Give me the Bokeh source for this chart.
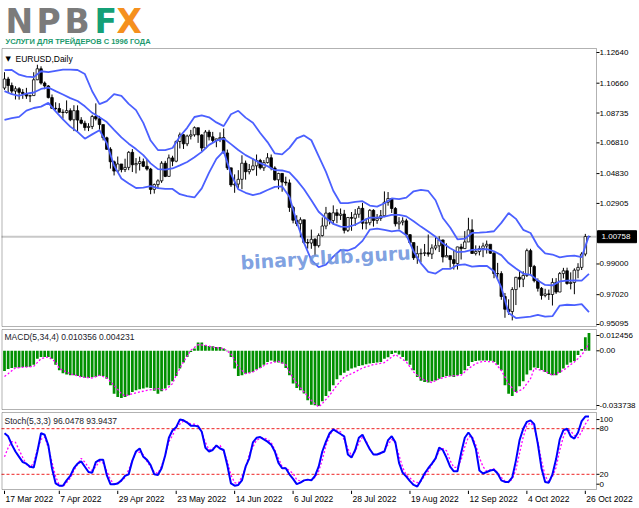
from bokeh.plotting import figure
from bokeh.models import Range1d, Label, BoxAnnotation
from bokeh.layouts import column
from bokeh.embed import file_html
from bokeh.resources import INLINE
from bokeh.core.properties import value

# ---------------- data (EURUSD daily, 17 Mar 2022 .. 27 Oct 2022; bar index 0..160) ----------------
opens = [
1.1035,1.1093,1.1051,1.1015,1.1030,1.1007,1.0998,1.0983,1.0986,1.1088,
1.1159,1.1067,1.1048,1.0973,1.0904,1.0903,1.0879,1.0877,1.0889,1.0830,
1.0889,1.0828,1.0808,1.0780,1.0787,1.0851,1.0836,1.0799,1.0714,1.0640,
1.0559,1.0499,1.0545,1.0509,1.0523,1.0620,1.0540,1.0548,1.0560,1.0530,
1.0512,1.0381,1.0412,1.0436,1.0550,1.0465,1.0584,1.0563,1.0690,1.0733,
1.0675,1.0725,1.0733,1.0779,1.0732,1.0648,1.0751,1.0720,1.0697,1.0707,
1.0715,1.0616,1.0520,1.0410,1.0415,1.0446,1.0550,1.0495,1.0509,1.0533,
1.0567,1.0520,1.0554,1.0585,1.0519,1.0443,1.0484,1.0428,1.0423,1.0265,
1.0182,1.0160,1.0185,1.0038,1.0035,1.0059,1.0018,1.0083,1.0145,1.0228,
1.0180,1.0230,1.0213,1.0222,1.0117,1.0200,1.0195,1.0221,1.0259,1.0163,
1.0166,1.0246,1.0181,1.0194,1.0211,1.0298,1.0322,1.0258,1.0159,1.0170,
1.0178,1.0089,1.0038,0.9940,0.9966,0.9969,0.9972,0.9964,1.0003,1.0017,
1.0055,0.9945,0.9954,0.9928,0.9903,1.0010,0.9999,1.0042,1.0120,0.9968,
0.9980,0.9999,1.0016,1.0027,0.9969,0.9838,0.9838,0.9690,0.9608,0.9593,
0.9735,0.9814,0.9802,0.9826,0.9986,0.9884,0.9792,0.9743,0.9697,0.9707,
0.9703,0.9781,0.9719,0.9838,0.9856,0.9774,0.9781,0.9860,0.9878,0.9964,
1.0077]
closes = [
1.1093,1.1051,1.1015,1.1030,1.1007,1.0998,1.0983,1.0986,1.1088,1.1159,
1.1067,1.1048,1.0973,1.0904,1.0903,1.0879,1.0877,1.0889,1.0830,1.0889,
1.0828,1.0808,1.0780,1.0787,1.0851,1.0836,1.0799,1.0714,1.0640,1.0559,
1.0499,1.0545,1.0509,1.0523,1.0620,1.0540,1.0548,1.0560,1.0530,1.0512,
1.0381,1.0412,1.0436,1.0550,1.0465,1.0584,1.0563,1.0690,1.0733,1.0675,
1.0725,1.0733,1.0779,1.0732,1.0648,1.0751,1.0720,1.0697,1.0707,1.0715,
1.0616,1.0520,1.0410,1.0415,1.0446,1.0550,1.0495,1.0509,1.0533,1.0567,
1.0520,1.0554,1.0585,1.0519,1.0443,1.0484,1.0428,1.0423,1.0265,1.0182,
1.0160,1.0185,1.0038,1.0035,1.0059,1.0018,1.0083,1.0145,1.0228,1.0180,
1.0230,1.0213,1.0222,1.0117,1.0200,1.0195,1.0221,1.0259,1.0163,1.0166,
1.0246,1.0181,1.0194,1.0211,1.0298,1.0322,1.0258,1.0159,1.0170,1.0178,
1.0089,1.0038,0.9940,0.9966,0.9969,0.9972,0.9964,1.0003,1.0017,1.0055,
0.9945,0.9954,0.9928,0.9903,1.0010,0.9999,1.0042,1.0120,0.9968,0.9980,
0.9999,1.0016,1.0027,0.9969,0.9838,0.9838,0.9690,0.9608,0.9593,0.9735,
0.9814,0.9802,0.9826,0.9986,0.9884,0.9792,0.9743,0.9697,0.9707,0.9703,
0.9781,0.9719,0.9838,0.9856,0.9774,0.9781,0.9860,0.9878,0.9964,1.0077,
1.0076]
highs = [
1.1137,1.1107,1.1070,1.1046,1.1040,1.1028,1.1036,1.0992,1.1137,1.1185,
1.1175,1.1077,1.1054,1.0993,1.0943,1.0937,1.0897,1.0955,1.0904,1.0924,
1.0923,1.0847,1.0824,1.0808,1.0862,1.0936,1.0855,1.0794,1.0721,1.0653,
1.0567,1.0593,1.0544,1.0579,1.0628,1.0641,1.0583,1.0592,1.0580,1.0577,
1.0520,1.0419,1.0446,1.0563,1.0565,1.0606,1.0598,1.0697,1.0748,1.0737,
1.0734,1.0765,1.0787,1.0765,1.0737,1.0764,1.0765,1.0752,1.0708,1.0749,
1.0774,1.0638,1.0498,1.0478,1.0505,1.0601,1.0567,1.0545,1.0582,1.0606,
1.0578,1.0571,1.0615,1.0606,1.0530,1.0488,1.0486,1.0463,1.0445,1.0275,
1.0214,1.0201,1.0154,1.0062,1.0122,1.0067,1.0097,1.0200,1.0268,1.0233,
1.0278,1.0254,1.0258,1.0249,1.0202,1.0235,1.0254,1.0274,1.0294,1.0195,
1.0254,1.0253,1.0222,1.0248,1.0368,1.0364,1.0324,1.0267,1.0202,1.0201,
1.0192,1.0093,1.0034,1.0017,0.9999,1.0029,1.0090,1.0027,1.0079,1.0079,
1.0057,1.0033,0.9950,0.9987,1.0011,1.0030,1.0112,1.0198,1.0188,1.0020,
1.0018,1.0037,1.0051,1.0020,0.9977,0.9907,0.9853,0.9713,0.9672,0.9750,
0.9817,0.9854,0.9853,0.9999,0.9998,0.9894,0.9807,0.9751,0.9740,0.9735,
0.9808,0.9809,0.9848,0.9875,0.9876,0.9846,0.9872,0.9905,0.9976,1.0094,
1.0079]
lows = [
1.1023,1.1006,1.0998,1.0961,1.0960,1.0965,1.0965,1.0944,1.0986,1.1086,
1.1057,1.1027,1.0968,1.0902,1.0892,1.0877,1.0837,1.0870,1.0821,1.0757,
1.0758,1.0801,1.0760,1.0757,1.0770,1.0825,1.0766,1.0697,1.0636,1.0515,
1.0471,1.0492,1.0491,1.0493,1.0505,1.0493,1.0484,1.0503,1.0525,1.0502,
1.0350,1.0354,1.0389,1.0423,1.0460,1.0462,1.0531,1.0556,1.0645,1.0642,
1.0660,1.0703,1.0721,1.0681,1.0627,1.0641,1.0697,1.0682,1.0653,1.0686,
1.0613,1.0506,1.0397,1.0359,1.0390,1.0382,1.0444,1.0478,1.0502,1.0469,
1.0509,1.0500,1.0548,1.0504,1.0437,1.0382,1.0366,1.0405,1.0236,1.0162,
1.0144,1.0072,1.0031,0.9999,0.9998,0.9952,1.0006,1.0077,1.0124,1.0155,
1.0153,1.0163,1.0184,1.0097,1.0106,1.0114,1.0146,1.0198,1.0123,1.0123,
1.0150,1.0141,1.0159,1.0178,1.0202,1.0276,1.0229,1.0142,1.0123,1.0149,
1.0072,1.0032,0.9926,0.9901,0.9910,0.9951,0.9947,0.9932,0.9989,0.9977,
0.9910,0.9945,0.9876,0.9864,0.9864,0.9929,1.0000,1.0060,0.9966,0.9955,
0.9955,0.9944,0.9967,0.9965,0.9808,0.9807,0.9669,0.9553,0.9572,0.9536,
0.9635,0.9749,0.9751,0.9816,0.9836,0.9781,0.9722,0.9670,0.9685,0.9668,
0.9632,0.9707,0.9730,0.9807,0.9766,0.9736,0.9705,0.9808,0.9861,0.9950,
1.0073]
bar_idx = list(range(len(closes)))

# Bollinger bands, read every second bar
bb_idx = list(range(0, 161, 2))
bb_upper = [
1.1150,1.1151,1.1121,1.1108,1.1105,1.1143,1.1137,1.1146,1.1153,1.1154,
1.1151,1.1125,1.1014,1.0931,1.0950,1.0996,1.0984,1.0933,1.0892,1.0810,
1.0696,1.0635,1.0634,1.0648,1.0722,1.0778,1.0848,1.0858,1.0846,1.0813,
1.0789,1.0866,1.0888,1.0844,1.0811,1.0745,1.0686,1.0613,1.0607,1.0649,
1.0710,1.0729,1.0698,1.0596,1.0494,1.0372,1.0292,1.0292,1.0301,1.0305,
1.0277,1.0270,1.0292,1.0323,1.0318,1.0328,1.0369,1.0378,1.0371,1.0311,
1.0197,1.0135,1.0059,1.0063,1.0100,1.0102,1.0105,1.0111,1.0165,1.0229,
1.0191,1.0120,1.0100,1.0016,0.9969,0.9961,0.9943,0.9950,0.9954,0.9944,
1.0083]
bb_middle = [
1.1015,1.0995,1.0985,1.0999,1.1006,1.1029,1.1038,1.1015,1.0993,1.0970,
1.0951,1.0917,1.0875,1.0847,1.0815,1.0765,1.0717,1.0676,1.0641,1.0602,
1.0549,1.0512,1.0509,1.0516,1.0536,1.0558,1.0588,1.0623,1.0668,1.0695,
1.0709,1.0673,1.0635,1.0602,1.0577,1.0550,1.0531,1.0505,1.0503,1.0491,
1.0441,1.0382,1.0311,1.0237,1.0195,1.0159,1.0141,1.0139,1.0153,1.0177,
1.0199,1.0199,1.0206,1.0217,1.0217,1.0207,1.0175,1.0141,1.0110,1.0075,
1.0033,1.0001,0.9976,0.9980,0.9991,0.9994,0.9996,0.9982,0.9957,0.9906,
0.9871,0.9838,0.9830,0.9794,0.9765,0.9762,0.9788,0.9793,0.9794,0.9792,
0.9836]
bb_lower = [
1.0830,1.0840,1.0849,1.0889,1.0906,1.0915,1.0939,1.0884,1.0833,1.0786,
1.0752,1.0708,1.0736,1.0763,1.0679,1.0534,1.0451,1.0419,1.0390,1.0393,
1.0402,1.0389,1.0385,1.0384,1.0350,1.0338,1.0329,1.0388,1.0489,1.0578,
1.0628,1.0481,1.0382,1.0359,1.0344,1.0355,1.0377,1.0397,1.0400,1.0333,
1.0171,1.0036,0.9925,0.9879,0.9896,0.9947,0.9990,0.9987,1.0005,1.0049,
1.0121,1.0128,1.0120,1.0110,1.0117,1.0086,0.9981,0.9904,0.9849,0.9838,
0.9869,0.9868,0.9893,0.9898,0.9883,0.9887,0.9888,0.9853,0.9749,0.9584,
0.9551,0.9556,0.9560,0.9572,0.9561,0.9563,0.9632,0.9637,0.9635,0.9641,
0.9590]

macd_hist = [
-0.0118,-0.0106,-0.0100,-0.0098,-0.0097,-0.0095,-0.0095,-0.0095,-0.0081,-0.0046,
-0.0036,-0.0036,-0.0036,-0.0046,-0.0081,-0.0114,-0.0132,-0.0139,-0.0143,-0.0143,
-0.0147,-0.0153,-0.0157,-0.0159,-0.0155,-0.0153,-0.0147,-0.0147,-0.0163,-0.0202,
-0.0251,-0.0270,-0.0276,-0.0270,-0.0260,-0.0241,-0.0231,-0.0225,-0.0221,-0.0214,
-0.0218,-0.0233,-0.0251,-0.0237,-0.0221,-0.0202,-0.0178,-0.0147,-0.0104,-0.0069,
-0.0036,-0.0007,0.0013,0.0048,0.0048,0.0032,0.0028,0.0026,0.0022,0.0022,
0.0013,-0.0003,-0.0036,-0.0104,-0.0147,-0.0143,-0.0134,-0.0128,-0.0124,-0.0110,
-0.0100,-0.0081,-0.0065,-0.0056,-0.0065,-0.0069,-0.0075,-0.0100,-0.0143,-0.0192,
-0.0217,-0.0231,-0.0250,-0.0290,-0.0315,-0.0319,-0.0323,-0.0295,-0.0264,-0.0237,
-0.0202,-0.0167,-0.0143,-0.0128,-0.0116,-0.0104,-0.0097,-0.0089,-0.0085,-0.0079,
-0.0075,-0.0071,-0.0069,-0.0065,-0.0046,-0.0038,-0.0019,-0.0011,-0.0022,-0.0036,
-0.0058,-0.0081,-0.0114,-0.0153,-0.0175,-0.0182,-0.0186,-0.0178,-0.0173,-0.0163,
-0.0153,-0.0147,-0.0149,-0.0153,-0.0143,-0.0136,-0.0114,-0.0089,-0.0065,-0.0059,
-0.0056,-0.0056,-0.0056,-0.0058,-0.0065,-0.0081,-0.0114,-0.0202,-0.0251,-0.0264,
-0.0241,-0.0208,-0.0178,-0.0139,-0.0114,-0.0097,-0.0100,-0.0112,-0.0124,-0.0136,
-0.0143,-0.0143,-0.0128,-0.0104,-0.0081,-0.0069,-0.0060,-0.0025,0.0010,0.0080,
0.0104]
macd_sig_idx = [0,1,3,6,8,10,12,14,15,18,21,24,26,28,30,32,33,35,39,42,44,46,47,49,51,53,55,57,60,62,64,66,68,72,75,77,78,80,82,84,86,87,89,91,93,96,98,101,104,106,107,108,110,112,114,117,119,122,125,127,129,131,134,136,138,140,142,144,145,148,150,153,156,158,160]
macd_sig = [-0.0150,-0.0134,-0.0100,-0.0095,-0.0091,-0.0046,-0.0036,-0.0065,-0.0104,-0.0134,-0.0153,-0.0159,-0.0143,-0.0159,-0.0202,-0.0251,-0.0264,-0.0251,-0.0231,-0.0221,-0.0231,-0.0192,-0.0143,-0.0065,0.0003,0.0036,0.0032,0.0022,0.0013,-0.0017,-0.0095,-0.0134,-0.0124,-0.0075,-0.0061,-0.0081,-0.0124,-0.0192,-0.0241,-0.0290,-0.0329,-0.0309,-0.0260,-0.0202,-0.0153,-0.0124,-0.0100,-0.0081,-0.0069,-0.0036,-0.0022,-0.0036,-0.0065,-0.0124,-0.0163,-0.0186,-0.0163,-0.0147,-0.0143,-0.0104,-0.0075,-0.0061,-0.0065,-0.0114,-0.0192,-0.0245,-0.0221,-0.0163,-0.0104,-0.0120,-0.0143,-0.0114,-0.0065,-0.0026,0.0042]

stoch_main = [74,70,59,50,43,36,34,30,29,50, 74,72,58,28,8,5,5,12,18,28, 34,37,30,23,22,36,39,39,19,7,
              7,8,12,18,20,38,50,54,43,39, 32,20,19,28,45,68,78,82,92,91, 88,84,84,83,76,55,50,52,58,54,
              52,32,8,5,6,12,30,41,62,68, 69,66,63,59,50,35,28,28,20,14, 7,9,12,13,12,18,30,50,63,74,
              79,76,73,70,46,42,52,68,72,62, 53,46,46,48,50,65,70,62,35,22, 17,11,6,4,12,21,28,34,41,55,
              52,42,30,24,24,48,68,75,68,54, 25,21,23,25,26,21,12,10,10,16, 38,65,80,89,91,86,60,28,10,9,
              20,40,66,78,80,70,67,75,90,96, 96]
stoch_signal = [43,55,63,62,52,42,33,29,35,52,66,69,55,36,17,6,4,9,15,25,33,41,36,29,25,30,37,35,24,13,
                7,9,11,16,26,38,49,49,46,37,30,23,21,31,45,63,71,82,86,90,89,86,86,84,75,62,52,54,56,58,
                50,37,19,9,8,17,29,46,56,65,67,68,66,62,52,41,30,28,25,21,13,11,11,13,13,16,24,39,58,71,
                79,78,76,65,54,44,50,61,69,64,53,46,46,47,52,59,66,61,45,29,19,15,11,9,11,18,24,33,40,51,
                54,51,38,29,29,39,56,69,70,59,42,30,24,26,27,22,16,11,9,14,26,48,69,84,88,82,63,38,18,10,
                17,29,52,69,80,77,71,68,76,86,93]

date_idx = [0, 15, 31, 47, 63, 79, 95, 111, 127, 143, 159]
date_txt = ["17 Mar 2022", "7 Apr 2022", "29 Apr 2022", "23 May 2022", "14 Jun 2022", "6 Jul 2022",
            "28 Jul 2022", "19 Aug 2022", "12 Sep 2022", "4 Oct 2022", "26 Oct 2022"]
price_ticks = [0.95095, 0.97020, 0.99000, 1.02905, 1.04830, 1.06810, 1.08735, 1.10660, 1.12640]
last_price = 1.00758
macd_tick_pos = [0.00895, 0.0, -0.0320]
macd_tick_txt = ["0.012456", "0.00", "-0.033738"]
stoch_tick_pos = [92, 80, 20, 7]
stoch_tick_txt = ["100", "80", "20", "0"]
stoch_levels = [80, 20]

# ---------------- layout (page drawn edge to edge, 639 x 508) ----------------
W = 639
FONT = "Liberation Sans"
X0, AX = -0.82, 162.06               # plot-area left edge and price-axis position, in bar units
PXU = 3.653                          # pixels per bar
XF = Range1d(-4 / PXU, -4 / PXU + W / PXU)   # bar i sits at x = 4 + i * PXU


def panel(h, y0, y1, in_top, in_bot):
    p = figure(width=W, height=h, x_range=XF, y_range=Range1d(y0, y1), output_backend="svg", toolbar_location=None,
               x_axis_location=None, y_axis_location=None, min_border_left=0, min_border_right=0,
               min_border_top=0, min_border_bottom=0)
    p.grid.visible = False; p.outline_line_color = None
    p.background_fill_color = "white"; p.border_fill_color = "white"
    d = (y1 - y0) / h
    p.add_layout(BoxAnnotation(left=X0 + 0.5 / PXU, right=AX, bottom=y0 + in_bot * d, top=y1 - in_top * d,
                               fill_color=None, line_color="black", line_width=1))
    return p, d


def price_axis(p, pos, txt, label_pos=None):
    n = len(pos)
    p.segment(x0=[AX] * n, x1=[AX + 3 / PXU] * n, y0=pos, y1=pos, line_color="black", line_width=1)
    p.text(x=[AX] * n, y=label_pos or pos, text=txt, x_offset=3, text_baseline="middle", text_align="left",
           text_font=value(FONT), text_font_size="8px", text_color="black")


def hline(p, y, color, width, dash="solid"):
    return p.segment(x0=[X0], x1=[AX], y0=[y], y1=[y], line_color=color, line_width=width, line_dash=dash)


# logo
lg = figure(width=W, height=46, x_range=Range1d(0, W), y_range=Range1d(0, 46), output_backend="svg",
            toolbar_location=None, x_axis_location=None, y_axis_location=None, min_border_left=0,
            min_border_right=0, min_border_top=0, min_border_bottom=0)
lg.grid.visible = False; lg.outline_line_color = None
lg.text(x=[5, 36, 64], y=[25, 25, 25], text=["N", "P", "B"], text_font=value("DejaVu Sans"), text_font_style="bold",
        text_font_size="33px", text_color="#7b7b7b", text_baseline="middle")
lg.text(x=[94], y=[25], text=["F"], text_font=value("DejaVu Sans"), text_font_style="bold",
        text_font_size="33px", text_color="#14a077", text_baseline="middle")
lg.text(x=[116], y=[25], text=["X"], text_font=value("DejaVu Sans"), text_font_style="bold",
        text_font_size="33px", text_color="#f5901e", text_baseline="middle")
lg.text(x=[5], y=[5.5], text=["УСЛУГИ ДЛЯ ТРЕЙДЕРОВ С 1996 ГОДА"], text_font=value(FONT),
        text_font_style="bold", text_font_size="7.5px", text_color="#1b9a6e", text_baseline="middle")

# main price window
pm, dm = panel(282, 0.94838, 1.13027, 2, 2)
hline(pm, last_price, "#c8c8c8", 2).level = "underlay"
fills = ["white" if c >= o else "black" for o, c in zip(opens, closes)]
pm.segment(x0=bar_idx, y0=lows, x1=bar_idx, y1=highs, line_color="black", line_width=1)
pm.vbar(x=bar_idx, width=0.7, top=opens, bottom=closes, fill_color=fills, line_color="black", line_width=0.8)
for band in (bb_upper, bb_middle, bb_lower):
    pm.line(bb_idx, band, line_color="#4b60ff", line_width=1.8)
label_y = [t + 1.5 * dm if t == min(price_ticks) else t for t in price_ticks]
price_axis(pm, price_ticks, [f"{t:.5f}" for t in price_ticks], label_y)
pm.rect(x=[AX + 20.5 / PXU], y=[last_price], width=39, height=12, width_units="screen", height_units="screen",
        fill_color="black", line_color="black")
pm.text(x=[AX], y=[last_price], text=[f"{last_price:.5f}"], x_offset=5, text_baseline="middle", text_align="left",
        text_font=value(FONT), text_font_size="8px", text_color="white")
pm.add_layout(Label(x=87.9, y=0.9942, text="binaryclub.guru", angle=0.06, text_align="center",
                    text_baseline="middle", text_font="DejaVu Sans", text_font_style="bold",
                    text_font_size="19px", text_color="#6f95dd", text_alpha=0.9))
pm.add_layout(Label(x=5, y=270, x_units="screen", y_units="screen", text="▼", text_font="DejaVu Sans",
                    text_font_size="7px", text_color="black", text_baseline="middle"))
pm.add_layout(Label(x=15, y=270, x_units="screen", y_units="screen", text="EURUSD,Daily", text_font=FONT,
                    text_font_size="8.5px", text_color="black", text_baseline="middle"))

# MACD window
pc, dc = panel(83, -0.03551, 0.01305, 1, 2)
pc.vbar(x=bar_idx, width=0.75, top=macd_hist, bottom=0, fill_color="#009000", line_color=None)
pc.line(macd_sig_idx, macd_sig, line_color="#ff00ff", line_width=1.3, line_dash="2 2")
price_axis(pc, macd_tick_pos, macd_tick_txt)
pc.add_layout(Label(x=4, y=75, x_units="screen", y_units="screen", text="MACD(5,34,4) 0.010356 0.004231",
                    text_font=FONT, text_font_size="8.5px", text_color="#1a1a2a", text_baseline="middle"))

# Stochastic window
ps, ds = panel(79, -1.3, 102.6, 1, 1)
for lvl in stoch_levels:
    hline(ps, lvl, "#ee2222", 1, "3 2")
ps.line(bar_idx, stoch_signal, line_color="#ff00ff", line_width=1.3, line_dash="2 2")
ps.line(bar_idx, stoch_main, line_color="#0000ff", line_width=2)
price_axis(ps, stoch_tick_pos, stoch_tick_txt)
ps.add_layout(Label(x=4, y=70, x_units="screen", y_units="screen", text="Stoch(5,3,3) 96.0478 93.9437",
                    text_font=FONT, text_font_size="8.5px", text_color="#1a1a2a", text_baseline="middle"))

# date strip with tick marks
dt = figure(width=W, height=18, x_range=XF, y_range=Range1d(0, 18), output_backend="svg", toolbar_location=None,
            x_axis_location=None, y_axis_location=None, min_border_left=0, min_border_right=0,
            min_border_top=0, min_border_bottom=0)
dt.grid.visible = False; dt.outline_line_color = None
dt.segment(x0=date_idx, x1=date_idx, y0=[18] * len(date_idx), y1=[14.5] * len(date_idx), line_color="black")
dt.text(x=date_idx, y=[9.5] * len(date_idx), text=date_txt, x_offset=1, text_baseline="middle", text_align="left",
        text_font=value(FONT), text_font_size="8.5px", text_color="black")

lay = column(lg, pm, pc, ps, dt, spacing=0)
open("out.html", "w").write(file_html(lay, INLINE))
